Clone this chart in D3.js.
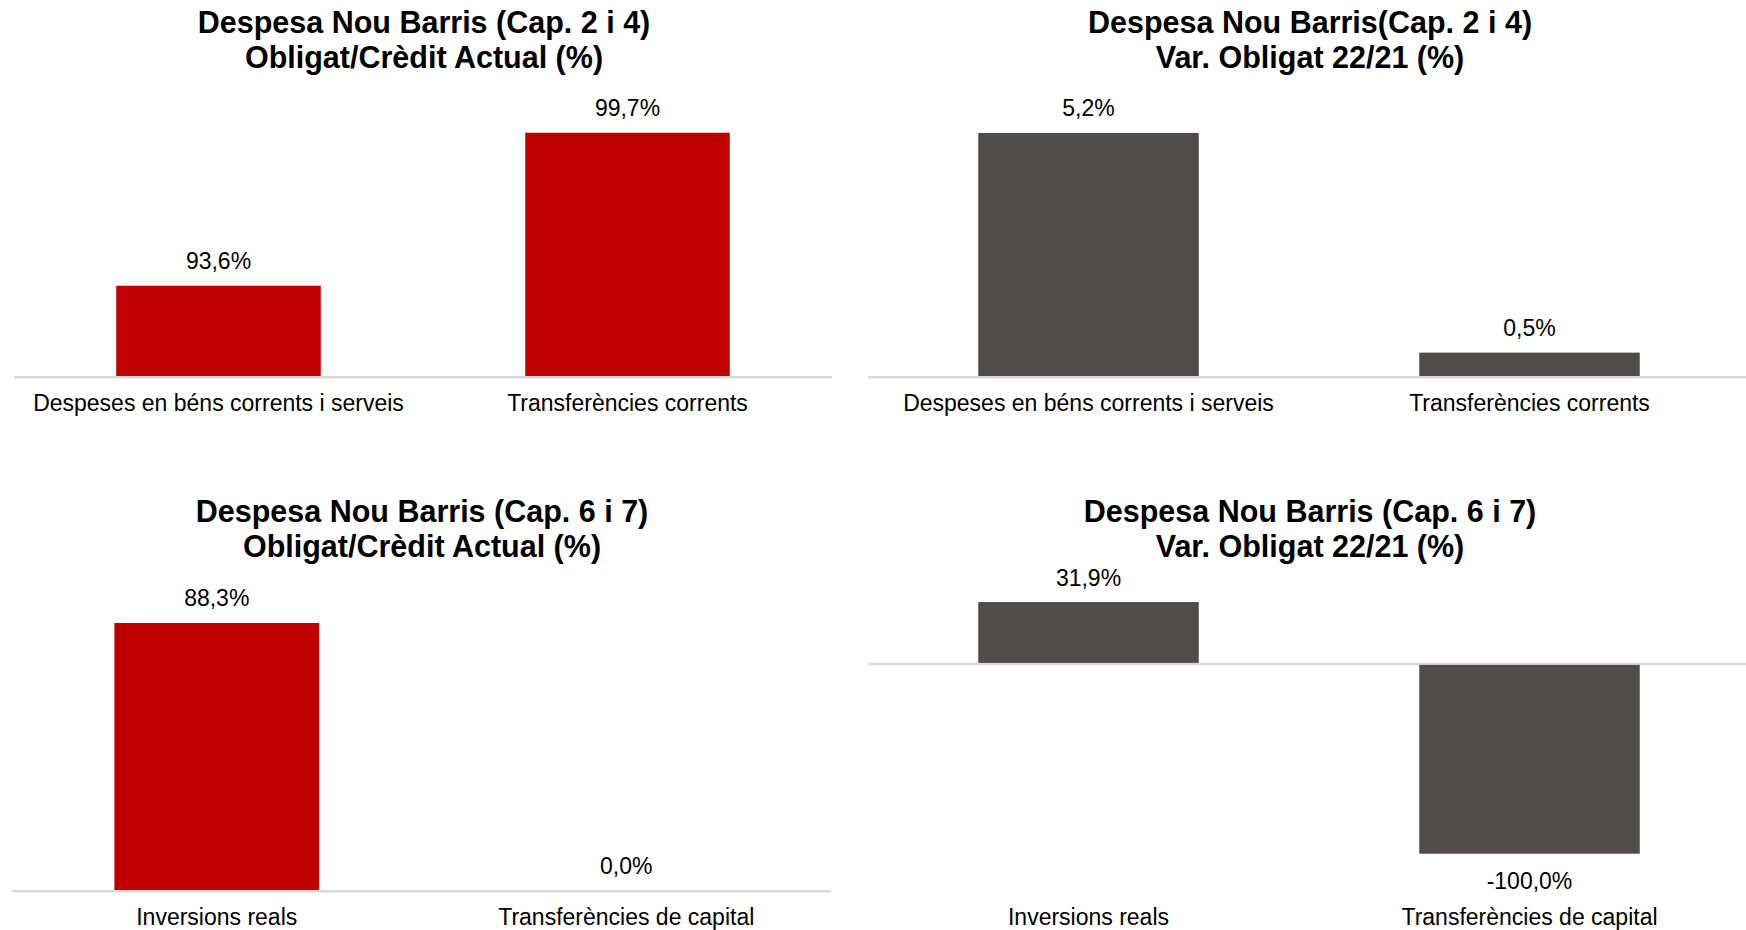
<!DOCTYPE html>
<html>
<head>
<meta charset="utf-8">
<script src="https://cdn.jsdelivr.net/npm/d3@7"></script>
<style>
  html, body { margin: 0; padding: 0; background: #fff; }
  svg { display: block; }
  text { font-family: "Liberation Sans", Arial, sans-serif; fill: #000; }
</style>
</head>
<body>
<svg id="chart" width="1746" height="930"></svg>
<script>
// Categories
const catsCap24 = ["Despeses en béns corrents i serveis", "Transferències corrents"];
const catsCap67 = ["Inversions reals", "Transferències de capital"];

// Series values (%)
const obligatCredit24 = [93.6, 99.7];
const varObligat24 = [5.2, 0.5];
const obligatCredit67 = [88.3, 0.0];
const varObligat67 = [31.9, -100.0];

// Titles
const titleCredit24 = ["Despesa Nou Barris (Cap. 2 i 4)", "Obligat/Crèdit Actual (%)"];
const titleVar24 = ["Despesa Nou Barris(Cap. 2 i 4)", "Var. Obligat 22/21 (%)"];
const titleCredit67 = ["Despesa Nou Barris (Cap. 6 i 7)", "Obligat/Crèdit Actual (%)"];
const titleVar67 = ["Despesa Nou Barris (Cap. 6 i 7)", "Var. Obligat 22/21 (%)"];

// Value axis domains
const domainCredit24 = [90, 100];
const domainVar24 = [0, 6];
const domainCredit67 = [0, 100];
const domainVar67 = [-100, 40];

const RED = "#C00000";
const GREY = "#504C4B";
const AXIS = "#D9D9D9";

const locale = d3.formatLocale({ decimal: ",", thousands: ".", grouping: [3], currency: ["", "€"], minus: "-" });
const fmt = v => locale.format(".1f")(v) + "%";

const svg = d3.select("#chart");

function panel(cfg) {
  const g = svg.append("g");
  const data = cfg.cats.map((c, i) => ({ cat: c, value: cfg.values[i] }));

  const x = d3.scaleBand().domain(cfg.cats).range(cfg.xRange)
    .paddingInner(0.5).paddingOuter(0.25);
  const y = d3.scaleLinear().domain(cfg.domain).range(cfg.yRange);
  const base = y(Math.max(cfg.domain[0], 0));

  // Title
  const t = g.append("text")
    .attr("text-anchor", "middle")
    .style("font-size", "30.5px")
    .style("font-weight", "bold");
  cfg.title.forEach((line, i) => {
    t.append("tspan").attr("x", cfg.titleX).attr("y", cfg.titleY + i * 35).text(line);
  });

  // Category axis line
  g.append("line")
    .attr("x1", cfg.axisX[0]).attr("x2", cfg.axisX[1])
    .attr("y1", base + 1.2).attr("y2", base + 1.2)
    .attr("stroke", AXIS).attr("stroke-width", 2.5);

  // Bars
  g.selectAll("rect.bar").data(data).join("rect")
    .attr("class", "bar")
    .attr("x", d => x(d.cat))
    .attr("width", x.bandwidth())
    .attr("y", d => d.value >= 0 ? y(d.value) : base + 2)
    .attr("height", d => d.value >= 0 ? base - y(d.value) : y(d.value) - base - 2)
    .attr("fill", cfg.color);

  // Value labels
  g.selectAll("text.val").data(data).join("text")
    .attr("class", "val")
    .attr("text-anchor", "middle")
    .style("font-size", "23px")
    .attr("x", d => x(d.cat) + x.bandwidth() / 2)
    .attr("y", d => d.value >= 0 ? y(d.value) - 16.5 : y(d.value) + 35.5)
    .text(d => fmt(d.value));

  // Category labels
  g.selectAll("text.cat").data(data).join("text")
    .attr("class", "cat")
    .attr("text-anchor", "middle")
    .style("font-size", "23px")
    .attr("x", d => x(d.cat) + x.bandwidth() / 2)
    .attr("y", cfg.catY)
    .text(d => d.cat);
}

panel({
  cats: catsCap24, values: obligatCredit24, domain: domainCredit24, color: RED,
  title: titleCredit24, titleX: 424, titleY: 33,
  xRange: [14, 832], axisX: [14, 832], yRange: [376, 125.2], catY: 411
});
panel({
  cats: catsCap24, values: varObligat24, domain: domainVar24, color: GREY,
  title: titleVar24, titleX: 1310, titleY: 33,
  xRange: [868, 1750], axisX: [868, 1746], yRange: [376, 95.6], catY: 411
});
panel({
  cats: catsCap67, values: obligatCredit67, domain: domainCredit67, color: RED,
  title: titleCredit67, titleX: 422, titleY: 522,
  xRange: [12, 831], axisX: [12, 831], yRange: [890, 587.6], catY: 925
});
panel({
  cats: catsCap67, values: varObligat67, domain: domainVar67, color: GREY,
  title: titleVar67, titleX: 1310, titleY: 522,
  xRange: [868, 1750], axisX: [868, 1746], yRange: [853.7, 586.6], catY: 925
});
</script>
</body>
</html>
